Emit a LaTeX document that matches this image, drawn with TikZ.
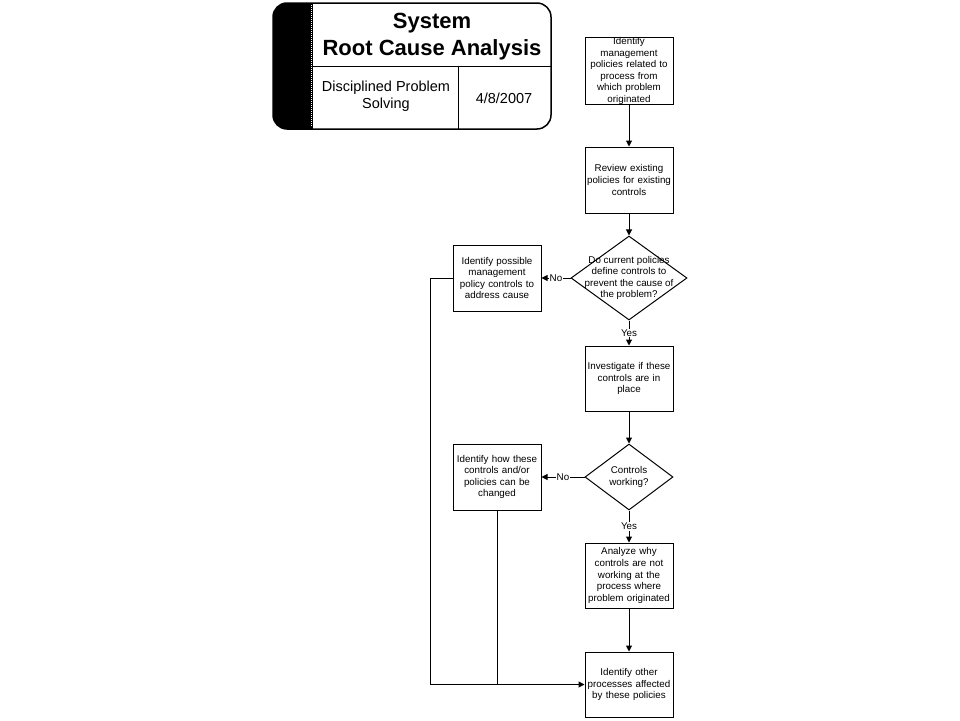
\documentclass[tikz,border=0pt]{standalone}
\usepackage{fontspec}
\setmainfont{Liberation Sans}
\usetikzlibrary{shapes.geometric,arrows.meta}

\begin{document}
\begin{tikzpicture}[x=1pt,y=-1pt,
    box/.style={draw, line width=1pt, minimum width=88pt, minimum height=66pt,
        text width=86pt, inner sep=0pt, align=center, font=\fontsize{9.8}{11.6}\selectfont},
    decision/.style={draw, diamond, line width=1pt, inner sep=0pt},
    txt/.style={align=center, font=\fontsize{9.8}{11.6}\selectfont},
    flow/.style={line width=1pt, -{Triangle[length=6pt,width=6pt]}},
    lbl/.style={fill=white, inner sep=1pt, font=\fontsize{9.8}{11.6}\selectfont},
    title/.style={font=\bfseries\fontsize{22}{25}\selectfont, anchor=base}]

    \useasboundingbox[fill=white] (0,0) rectangle (960,720);

    % title block
    \begin{scope}
        \clip[rounded corners=14pt] (273,3) rectangle (551,129);
        \fill (273,3) rectangle (313,129);
    \end{scope}
    \draw[white, line width=1pt, dash pattern=on 1pt off 1pt] (311.5,5) -- (311.5,127);
    \draw[line width=1.5pt, rounded corners=14pt] (273,3) rectangle (551,129);
    \draw[line width=1pt] (313,66) -- (551,66);
    \draw[line width=1pt] (458,66) -- (458,129);

    \node[title] (sys) at (432,28) {System};
    \node[title] (rca) at (432,55) {Root Cause Analysis};
    \node[align=center, font=\fontsize{14.5}{17}\selectfont] (dps) at (386,96) {Disciplined Problem\\Solving};
    \node[anchor=base, font=\fontsize{14.5}{17}\selectfont] (date) at (504,103) {4/8/2007};

    % flow
    \node[box] (b1) at (629,71) {Identify\\management\\policies related to\\process from\\which problem\\originated};
    \node[box] (b2) at (629,180) {Review existing\\policies for existing\\controls};
    \node[decision, minimum width=116pt, minimum height=84pt] (d1) at (629,278) {};
    \node[txt] (d1t) at (d1) {Do current policies\\define controls to\\prevent the cause of\\the problem?};
    \node[box] (b3) at (497,278) {Identify possible\\management\\policy controls to\\address cause};
    \node[box, minimum height=65pt] (b4) at (629,378.5) {Investigate if these\\controls are in\\place};
    \node[decision, minimum width=88pt, minimum height=66pt] (d2) at (629,477) {};
    \node[txt] (d2t) at (d2) {Controls\\working?};
    \node[box] (b5) at (497,477) {Identify how these\\controls and/or\\policies can be\\changed};
    \node[box, minimum height=65pt] (b6) at (629,575.5) {Analyze why\\controls are not\\working at the\\process where\\problem originated};
    \node[box, minimum height=65pt] (b7) at (629,684.5) {Identify other\\processes affected\\by these policies};

    \draw[flow] (b1) -- (b2);
    \draw[flow] (b2) -- (d1);
    \draw[flow] (d1) -- node[lbl] {No} (b3);
    \draw[flow] (d1) -- node[lbl] {Yes} (b4);
    \draw[flow] (b4) -- (d2);
    \draw[flow] (d2) -- node[lbl] {No} (b5);
    \draw[flow] (d2) -- node[lbl] {Yes} (b6);
    \draw[flow] (b6) -- (b7);

    \draw[flow] (b3.west) -- ++(-22,0) |- (b7.west);
    \draw[line width=1pt] (b5.south) -- (b5.south |- b7.west);
\end{tikzpicture}
\end{document}
